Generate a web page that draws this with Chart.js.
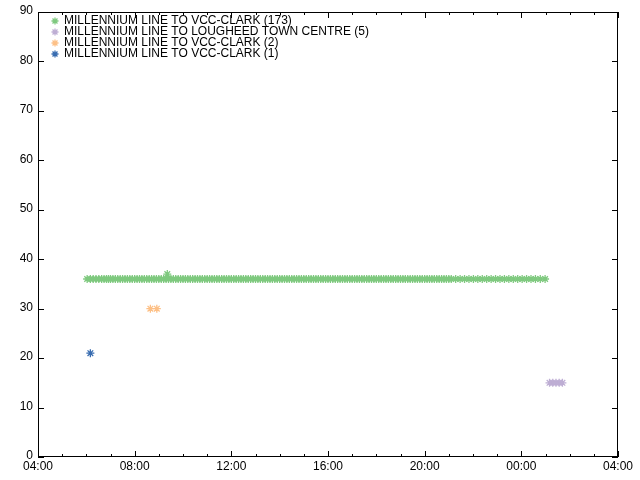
<!DOCTYPE html>
<html>
<head>
<meta charset="utf-8">
<script src="https://cdn.jsdelivr.net/npm/chart.js@4.4.0/dist/chart.umd.min.js"></script>
<style>
  html, body { margin: 0; padding: 0; background: #fff; }
  #wrap { width: 640px; height: 480px; }
</style>
</head>
<body>
<div id="wrap"><canvas id="myChart" width="640" height="480"></canvas></div>
<script>
// series labels and colours
const seriesLabels = [
  "MILLENNIUM LINE TO VCC-CLARK (173)",
  "MILLENNIUM LINE TO LOUGHEED TOWN CENTRE (5)",
  "MILLENNIUM LINE TO VCC-CLARK (2)",
  "MILLENNIUM LINE TO VCC-CLARK (1)",
];
const seriesColors = ["#7fc97f", "#beaed4", "#fdc086", "#386cb0"];

// [time, value]
const greenPoints = [
  ["06:02",36],["06:10",36],["06:17",36],["06:24",36],["06:31",36],["06:38",36],["06:44",36],["06:50",36],["06:55",36],
  ["07:00",36],["07:06",36],["07:12",36],["07:18",36],["07:24",36],["07:30",36],["07:36",36],["07:42",36],["07:48",36],["07:54",36],
  ["08:00",36],["08:06",36],["08:12",36],["08:18",36],["08:24",36],["08:30",36],["08:36",36],["08:42",36],["08:48",36],["08:54",36],
  ["09:00",36],["09:06",36],["09:12",36],["09:18",36],["09:21",37],["09:24",36],["09:30",36],["09:36",36],["09:42",36],["09:48",36],["09:54",36],
  ["10:00",36],["10:06",36],["10:12",36],["10:18",36],["10:24",36],["10:30",36],["10:36",36],["10:42",36],["10:48",36],["10:54",36],
  ["11:00",36],["11:06",36],["11:12",36],["11:18",36],["11:24",36],["11:30",36],["11:36",36],["11:42",36],["11:48",36],["11:54",36],
  ["12:00",36],["12:06",36],["12:12",36],["12:18",36],["12:24",36],["12:30",36],["12:36",36],["12:42",36],["12:48",36],["12:54",36],
  ["13:00",36],["13:06",36],["13:12",36],["13:18",36],["13:24",36],["13:30",36],["13:36",36],["13:42",36],["13:48",36],["13:54",36],
  ["14:00",36],["14:06",36],["14:12",36],["14:18",36],["14:24",36],["14:30",36],["14:36",36],["14:42",36],["14:48",36],["14:54",36],
  ["15:00",36],["15:06",36],["15:12",36],["15:18",36],["15:24",36],["15:30",36],["15:36",36],["15:42",36],["15:48",36],["15:54",36],
  ["16:00",36],["16:06",36],["16:12",36],["16:18",36],["16:24",36],["16:30",36],["16:36",36],["16:42",36],["16:48",36],["16:54",36],
  ["17:00",36],["17:06",36],["17:12",36],["17:18",36],["17:24",36],["17:30",36],["17:36",36],["17:42",36],["17:48",36],["17:54",36],
  ["18:00",36],["18:06",36],["18:12",36],["18:18",36],["18:24",36],["18:30",36],["18:36",36],["18:42",36],["18:48",36],["18:54",36],
  ["19:00",36],["19:06",36],["19:12",36],["19:18",36],["19:24",36],["19:30",36],["19:36",36],["19:42",36],["19:48",36],["19:54",36],
  ["20:00",36],["20:06",36],["20:12",36],["20:18",36],["20:24",36],["20:30",36],["20:36",36],["20:42",36],["20:48",36],["20:54",36],
  ["21:00",36],
  ["21:06",36],["21:17",36],["21:28",36],["21:39",36],["21:50",36],["22:01",36],["22:12",36],["22:23",36],["22:34",36],["22:45",36],["22:56",36],
  ["23:07",36],["23:18",36],["23:29",36],["23:40",36],["23:51",36],["00:02",36],["00:13",36],["00:24",36],["00:35",36],["00:47",36],["00:59",36],
];
const purplePoints = [["01:10",15],["01:18",15],["01:26",15],["01:34",15],["01:42",15]];
const orangePoints = [["08:39",30],["08:55",30]];
const bluePoints = [["06:10",21]];

// axis
const xMin = 4, xMax = 28;
const yMin = 0, yMax = 90;

// "HH:MM" -> hours after midnight of the service day (after-midnight runs go past 24)
function toHours(t) {
  const [h, m] = t.split(":").map(Number);
  const v = h + m / 60;
  return h < 4 ? v + 24 : v;
}
function hourLabel(v) {
  const h = ((Math.round(v) % 24) + 24) % 24;
  return (h < 10 ? "0" : "") + h + ":00";
}

const allPoints = [greenPoints, purplePoints, orangePoints, bluePoints];
const datasets = allPoints.map((pts, i) => ({
  label: seriesLabels[i],
  data: pts.map((p) => ({ x: toHours(p[0]), y: p[1] })),
  borderColor: seriesColors[i],
  backgroundColor: seriesColors[i],
  pointStyle: "star",
  pointRadius: 4,
  pointHoverRadius: 4,
  borderWidth: 1.3,
  showLine: false,
}));

const FONT = '12px "Liberation Sans", Arial, sans-serif';

// gnuplot-like frame: box border, inward ticks mirrored, labels, legend inside
const framePlugin = {
  id: "frame",
  afterDraw(chart) {
    const ctx = chart.ctx;
    const a = chart.chartArea;
    const xs = chart.scales.x, ys = chart.scales.y;
    ctx.save();
    ctx.strokeStyle = "#000";
    ctx.lineWidth = 1;
    ctx.strokeRect(Math.round(a.left) + 0.5, Math.round(a.top) + 0.5,
      Math.round(a.right - a.left) - 1, Math.round(a.bottom - a.top) - 1);

    ctx.fillStyle = "#000";
    ctx.font = FONT;
    ctx.beginPath();
    xs.ticks.forEach((t) => {
      const px = Math.round(xs.getPixelForValue(t.value)) + 0.5;
      const major = Math.round(t.value) % 4 === 0;
      const len = major ? 6 : 3;
      ctx.moveTo(px, a.bottom); ctx.lineTo(px, a.bottom - len);
      ctx.moveTo(px, a.top); ctx.lineTo(px, a.top + len);
    });
    ys.ticks.forEach((t) => {
      const py = Math.round(ys.getPixelForValue(t.value)) + 0.5;
      ctx.moveTo(a.left, py); ctx.lineTo(a.left + 6, py);
      ctx.moveTo(a.right, py); ctx.lineTo(a.right - 6, py);
    });
    ctx.stroke();

    ctx.textAlign = "center";
    ctx.textBaseline = "middle";
    xs.ticks.forEach((t) => {
      if (Math.round(t.value) % 4 !== 0) return;
      ctx.fillText(hourLabel(t.value), xs.getPixelForValue(t.value), a.bottom + 10);
    });
    ctx.textAlign = "right";
    ys.ticks.forEach((t) => {
      ctx.fillText(String(t.value), a.left - 5, ys.getPixelForValue(t.value) - 1);
    });

    // legend
    ctx.textAlign = "left";
    chart.data.datasets.forEach((ds, i) => {
      const cy = a.top + 9 + i * 11;
      const cx = a.left + 17;
      const r = 3.5;
      ctx.strokeStyle = ds.borderColor;
      ctx.lineWidth = 1.3;
      ctx.beginPath();
      ctx.moveTo(cx - r, cy); ctx.lineTo(cx + r, cy);
      ctx.moveTo(cx, cy - r); ctx.lineTo(cx, cy + r);
      const d = r * Math.SQRT1_2;
      ctx.moveTo(cx - d, cy - d); ctx.lineTo(cx + d, cy + d);
      ctx.moveTo(cx - d, cy + d); ctx.lineTo(cx + d, cy - d);
      ctx.stroke();
      ctx.fillStyle = "#000";
      ctx.fillText(ds.label, a.left + 26, cy);
    });
    ctx.restore();
  },
};

new Chart(document.getElementById("myChart").getContext("2d"), {
  type: "scatter",
  data: { datasets: datasets },
  options: {
    responsive: false,
    animation: false,
    devicePixelRatio: 1,
    layout: { padding: { left: 38, right: 22, top: 12, bottom: 23 } },
    plugins: { legend: { display: false }, tooltip: { enabled: false } },
    scales: {
      x: {
        type: "linear",
        min: xMin,
        max: xMax,
        ticks: { display: false, stepSize: 1 },
        grid: { display: false, drawTicks: false, tickLength: 0 },
        border: { display: false },
      },
      y: {
        min: yMin,
        max: yMax,
        ticks: { display: false, stepSize: 10 },
        grid: { display: false, drawTicks: false, tickLength: 0 },
        border: { display: false },
      },
    },
  },
  plugins: [framePlugin],
});
</script>
</body>
</html>
